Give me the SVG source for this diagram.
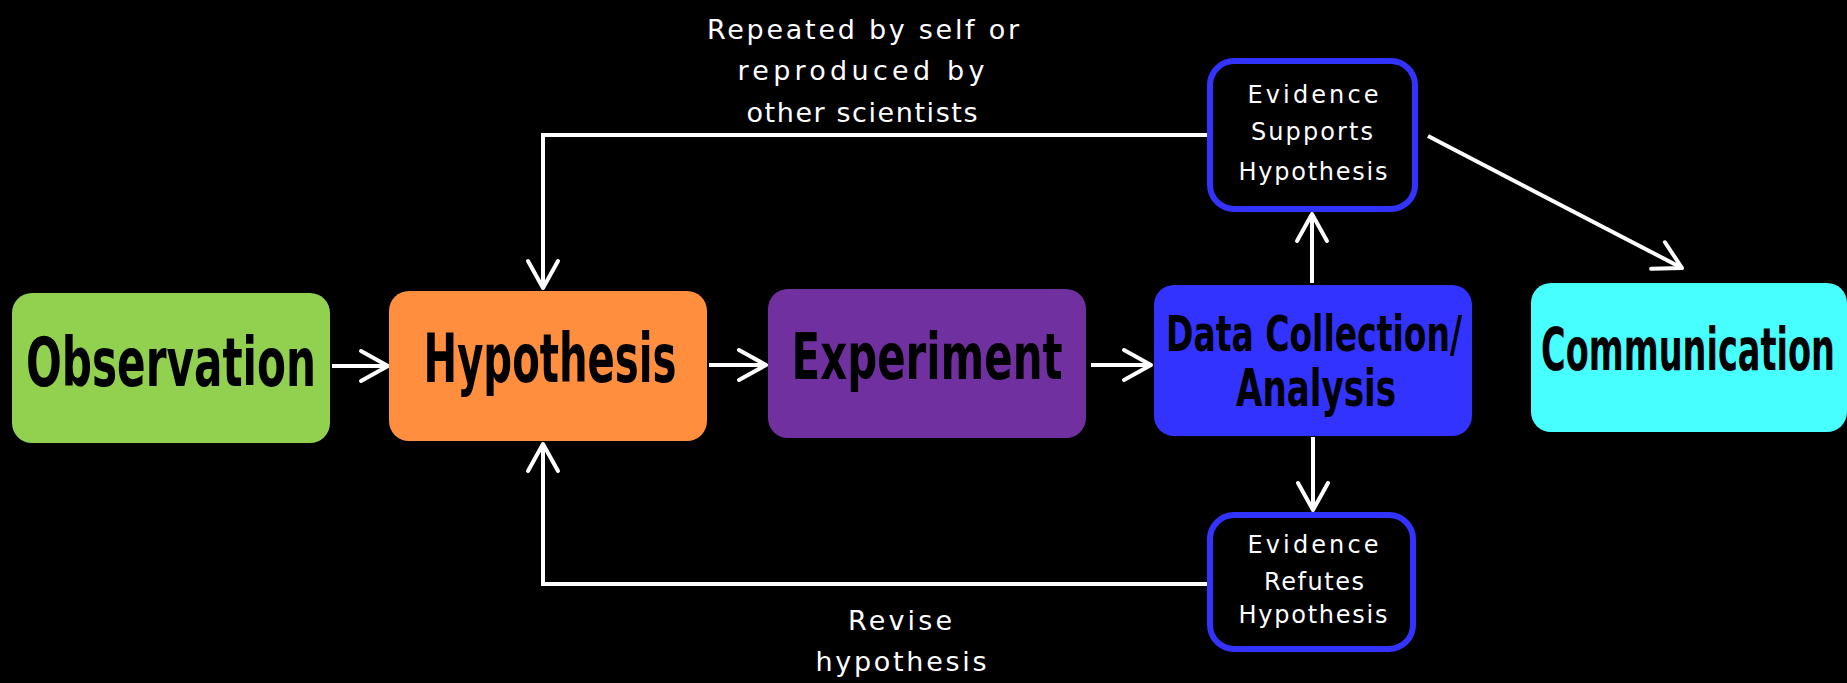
<svg xmlns="http://www.w3.org/2000/svg" width="1847" height="683" viewBox="0 0 1847 683">
<style>
.big{font-family:"DejaVu Sans Condensed","DejaVu Sans",sans-serif;font-stretch:condensed;font-weight:bold;fill:#000;text-anchor:middle}
.sm{font-family:"DejaVu Sans","Liberation Sans",sans-serif;fill:#fff;text-anchor:middle}
.conn{fill:none;stroke:#fff;stroke-width:4}
.ev{fill:#000;stroke:#3333ff;stroke-width:6}
</style>
<defs>
<marker id="arr" markerUnits="userSpaceOnUse" markerWidth="40" markerHeight="40" viewBox="-32 -20 36 40" refX="0" refY="0" orient="auto">
<path d="M-27,-15 L0,0 L-27,15" fill="none" stroke="#fff" stroke-width="4" stroke-linejoin="round" stroke-linecap="round"/>
</marker>
</defs>
<rect width="1847" height="683" fill="#000"/>
<g id="connectors">
<path class="conn" d="M332,366 H388" marker-end="url(#arr)"/>
<path class="conn" d="M709,365 H766" marker-end="url(#arr)"/>
<path class="conn" d="M1091,365 H1151" marker-end="url(#arr)"/>
<path class="conn" d="M1312,283 V214" marker-end="url(#arr)"/>
<path class="conn" d="M1313,437 V510" marker-end="url(#arr)"/>
<path class="conn" d="M1428,136 L1682,268" marker-end="url(#arr)"/>
<path class="conn" d="M1208,135 H543 V288" marker-end="url(#arr)"/>
<path class="conn" d="M1208,584 H543 V444" marker-end="url(#arr)"/>
</g>
<g id="label-repeated">
<text class="sm" x="863" y="39" font-size="27" textLength="312">Repeated by self or</text>
<text class="sm" x="861" y="80" font-size="27" textLength="247">reproduced by</text>
<text class="sm" x="862" y="122" font-size="27" textLength="231">other scientists</text>
</g>
<g id="label-revise">
<text class="sm" x="900" y="630" font-size="27" textLength="104">Revise</text>
<text class="sm" x="901" y="671" font-size="27" textLength="171">hypothesis</text>
</g>
<g id="observation">
<rect x="12" y="293" width="318" height="150" rx="20" fill="#92d050"/>
<text class="big" transform="translate(171,386) scale(1,1.45)" font-size="47" textLength="290" lengthAdjust="spacingAndGlyphs">Observation</text>
</g>
<g id="hypothesis">
<rect x="389" y="291" width="318" height="150" rx="20" fill="#ff8f3f"/>
<text class="big" transform="translate(550,382) scale(1,1.52)" font-size="45" textLength="253" lengthAdjust="spacingAndGlyphs">Hypothesis</text>
</g>
<g id="experiment">
<rect x="768" y="289" width="318" height="149" rx="20" fill="#7030a0"/>
<text class="big" transform="translate(927,379) scale(1,1.38)" font-size="46" textLength="271" lengthAdjust="spacingAndGlyphs">Experiment</text>
</g>
<g id="data-collection">
<rect x="1154" y="285" width="318" height="151" rx="20" fill="#3333ff"/>
<text class="big" transform="translate(1314,351) scale(1,1.37)" font-size="36.5" textLength="296" lengthAdjust="spacingAndGlyphs">Data Collection/</text>
<text class="big" transform="translate(1316,406) scale(1,1.35)" font-size="38" textLength="160" lengthAdjust="spacingAndGlyphs">Analysis</text>
</g>
<g id="communication">
<rect x="1531" y="283" width="316" height="149" rx="20" fill="#47ffff"/>
<text class="big" transform="translate(1688,370) scale(1,1.57)" font-size="37" textLength="294" lengthAdjust="spacingAndGlyphs">Communication</text>
</g>
<g id="evidence-supports">
<rect class="ev" x="1210" y="61" width="205" height="148" rx="24"/>
<text class="sm" x="1313" y="103" font-size="24" textLength="131">Evidence</text>
<text class="sm" x="1312" y="140" font-size="24" textLength="122">Supports</text>
<text class="sm" x="1313" y="180" font-size="24" textLength="149">Hypothesis</text>
</g>
<g id="evidence-refutes">
<rect class="ev" x="1210" y="515" width="203" height="134" rx="24"/>
<text class="sm" x="1313" y="553" font-size="24" textLength="131">Evidence</text>
<text class="sm" x="1314" y="590" font-size="24" textLength="100">Refutes</text>
<text class="sm" x="1313" y="623" font-size="24" textLength="149">Hypothesis</text>
</g>
</svg>
